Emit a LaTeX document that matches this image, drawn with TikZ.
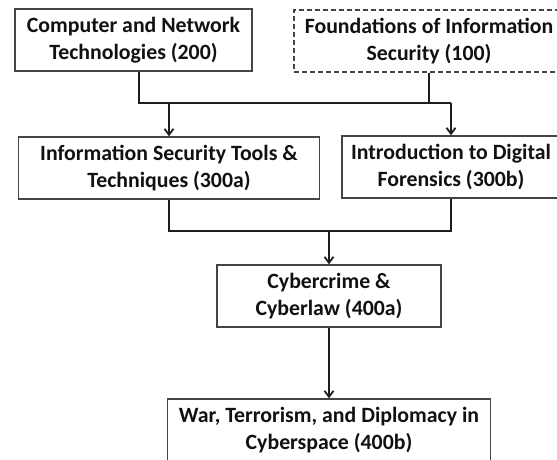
\documentclass[tikz,border=0pt]{standalone}
\usepackage{fontspec}
\setmainfont{Carlito}
\usetikzlibrary{arrows.meta}
\definecolor{txt}{HTML}{111111}
\definecolor{edge}{HTML}{444444}
\definecolor{conn}{HTML}{1E1E1E}
\tikzset{
  course/.style={draw=edge, line width=1.4pt, fill=white, align=center, inner sep=0pt,
    text=txt, font=\bfseries\fontsize{21.8}{27}\selectfont, minimum height=62pt},
  optional/.style={course, dash pattern=on 5pt off 3pt},
  link/.style={draw=conn, line width=2pt},
  arr/.style={link, -{Straight Barb[length=6pt,width=9pt,line width=1.8pt]}}
}
\begin{document}
\begin{tikzpicture}[x=1pt,y=-1pt]
\useasboundingbox (0,0) rectangle (557,460);
\fill[white] (0,0) rectangle (557,460);
\clip (0,0) rectangle (557,460);
% nodes
\node[course, minimum width=237pt] (b1) at (133.5,40) {Computer and Network\\Technologies (200)};
\node[optional, minimum width=270pt] (b2) at (429,41) {Foundations of Information\\Security (100)};
\node[course, minimum width=301pt] (b3) at (169,168) {Information Security Tools \&\\Techniques (300a)};
\node[course, minimum width=218pt] (b4) at (451,167) {Introduction to Digital\\Forensics (300b)};
\node[course, minimum width=224pt] (b5) at (329,296) {Cybercrime \&\\Cyberlaw (400a)};
\node[course, minimum width=323pt] (b6) at (329,430) {War, Terrorism, and Diplomacy in\\Cyberspace (400b)};
% junctions
\coordinate (j1) at (139,103);
\coordinate (j2) at (451,103);
\coordinate (j3) at (329,231);
% top connectors
\draw[link] (b1.south -| j1) -- (j1) -- (j2);
\draw[link] (b2.south) -- (b2.south |- j1);
\draw[arr] (b3.north |- j1) -- (b3.north);
\draw[arr] (j2) -- (b4.north);
% middle connectors
\draw[link] (b3.south) -- (b3.south |- j3) -- (b4.south |- j3) -- (b4.south);
\draw[arr] (j3) -- (b5.north);
\draw[arr] (b5.south) -- (b6.north);
\end{tikzpicture}
\end{document}
